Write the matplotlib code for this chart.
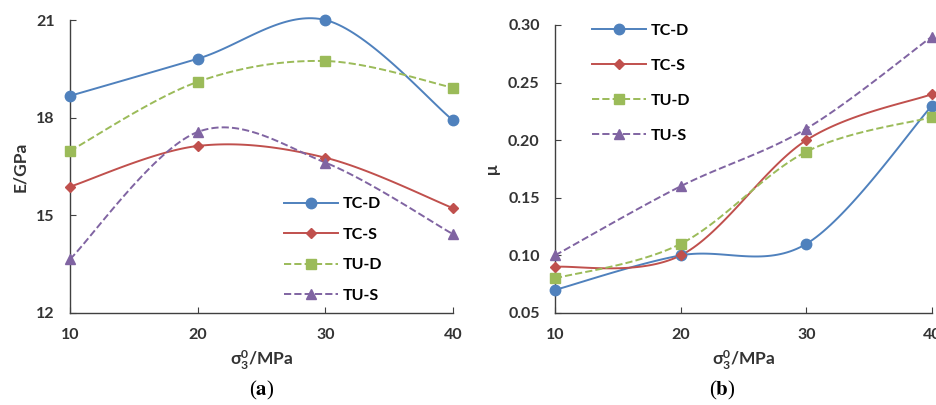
import matplotlib.pyplot as plt
import numpy as np

plt.rcParams['font.family'] = ['Lato', 'DejaVu Sans']
plt.rcParams['mathtext.fontset'] = 'custom'
plt.rcParams['mathtext.bf'] = 'Lato:bold'
plt.rcParams['mathtext.rm'] = 'Lato'
plt.rcParams['mathtext.fallback'] = 'stixsans'

x = [10, 20, 30, 40]
labels = ['TC-D', 'TC-S', 'TU-D', 'TU-S']

E_tcd = [18.67, 19.81, 21.0, 17.92]
E_tcs = [15.88, 17.13, 16.77, 15.22]
E_tud = [16.98, 19.10, 19.74, 18.92]
E_tus = [13.65, 17.56, 16.62, 14.42]

mu_tcd = [0.07, 0.10, 0.11, 0.23]
mu_tcs = [0.09, 0.10, 0.20, 0.24]
mu_tud = [0.08, 0.11, 0.19, 0.22]
mu_tus = [0.10, 0.16, 0.21, 0.29]

colors = ['#4F81BD', '#C0504D', '#9BBB59', '#8064A2']
markers = ['o', 'D', 's', '^']
msizes = [7.5, 5.5, 7, 7]
styles = ['-', '-', '--', '--']


def smooth(xs, ys, n=40):
    # excel-like smoothed line (cubic bezier, catmull-rom control points)
    xs = np.asarray(xs, float)
    ys = np.asarray(ys, float)
    px = np.concatenate([[xs[0]], xs, [xs[-1]]])
    py = np.concatenate([[ys[0]], ys, [ys[-1]]])
    out_x, out_y = [], []
    t = np.linspace(0, 1, n)
    for i in range(1, len(px) - 2):
        p0 = np.array([px[i], py[i]])
        p3 = np.array([px[i + 1], py[i + 1]])
        c1 = p0 + (np.array([px[i + 1], py[i + 1]]) - np.array([px[i - 1], py[i - 1]])) / 6
        c2 = p3 - (np.array([px[i + 2], py[i + 2]]) - np.array([px[i], py[i]])) / 6
        bx = (1-t)**3*p0[0] + 3*(1-t)**2*t*c1[0] + 3*(1-t)*t**2*c2[0] + t**3*p3[0]
        by = (1-t)**3*p0[1] + 3*(1-t)**2*t*c1[1] + 3*(1-t)*t**2*c2[1] + t**3*p3[1]
        out_x.extend(bx)
        out_y.extend(by)
    return out_x, out_y


def draw(ax, series):
    for ys, lab, c, m, ms, ls in zip(series, labels, colors, markers, msizes, styles):
        sx, sy = smooth(x, ys)
        ax.plot(sx, sy, color=c, ls=ls, lw=1.4, clip_on=False)
        ax.plot(x, ys, ls='none', marker=m, ms=ms, color=c, clip_on=False, zorder=5)
        ax.plot([], [], color=c, ls=ls, lw=1.4, marker=m, ms=ms, label=lab)
    for s in ['top', 'right']:
        ax.spines[s].set_visible(False)
    for s in ['left', 'bottom']:
        ax.spines[s].set_color('#404040')
        ax.spines[s].set_linewidth(1.0)
    ax.set_xlim(10, 40)
    ax.set_xticks(x)
    ax.tick_params(direction='in', length=4, color='#404040', labelsize=11.5,
                   labelcolor='#333333')
    ax.tick_params(axis='x', pad=11)
    ax.tick_params(axis='y', pad=11)


fig = plt.figure(figsize=(9.37, 4.05), dpi=100)
ax1 = fig.add_axes([0.0747, 0.2272, 0.4088, 0.7234])
ax2 = fig.add_axes([0.5923, 0.2272, 0.4024, 0.7111])

draw(ax1, [E_tcd, E_tcs, E_tud, E_tus])
ax1.set_ylim(12, 21)
ax1.set_yticks([12, 15, 18, 21])
ax1.set_ylabel('E/GPa', fontsize=12.5, fontweight='bold', color='#333333', labelpad=6)
ax1.set_xlabel(r'$\mathbf{σ_3^0}$/MPa', fontsize=12.5, fontweight='bold',
               color='#333333', labelpad=5)
ax1.legend(loc='upper left', bbox_to_anchor=(0.52, 0.445), frameon=False,
           handlelength=3.4, labelspacing=1.02, handletextpad=0.3,
           prop={'weight': 'bold', 'size': 11.5})

draw(ax2, [mu_tcd, mu_tcs, mu_tud, mu_tus])
ax2.set_ylim(0.05, 0.30)
ax2.set_yticks([0.05, 0.10, 0.15, 0.20, 0.25, 0.30])
ax2.set_yticklabels(['0.05', '0.10', '0.15', '0.20', '0.25', '0.30'])
ax2.set_ylabel('μ', fontsize=12.5, fontweight='bold', color='#333333', labelpad=6)
ax2.set_xlabel(r'$\mathbf{σ_3^0}$/MPa', fontsize=12.5, fontweight='bold',
               color='#333333', labelpad=5)
ax2.legend(loc='upper left', bbox_to_anchor=(0.06, 1.055), frameon=False,
           handlelength=3.4, labelspacing=1.3, handletextpad=0.3,
           prop={'weight': 'bold', 'size': 11.5})

for ax in [ax1, ax2]:
    for t in ax.get_xticklabels() + ax.get_yticklabels():
        t.set_fontweight('bold')

fig.text(0.2796, 0.008, r'($\mathbf{a}$)', ha='center', va='bottom', fontsize=15,
         family='Liberation Serif', math_fontfamily='stix')
fig.text(0.7705, 0.008, r'($\mathbf{b}$)', ha='center', va='bottom', fontsize=15,
         family='Liberation Serif', math_fontfamily='stix')

fig.savefig('out.png', dpi=100)
